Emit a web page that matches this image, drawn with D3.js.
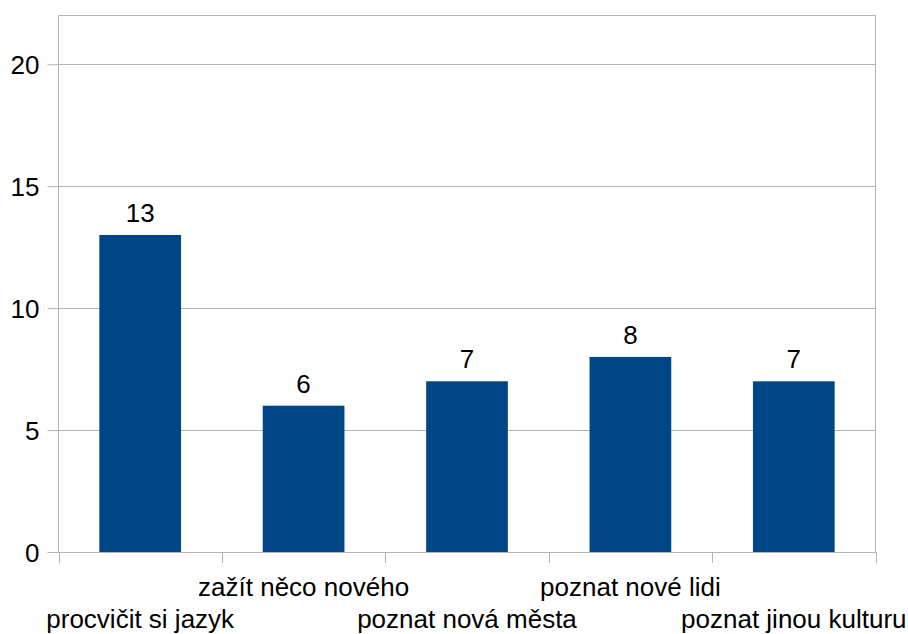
<!DOCTYPE html>
<html>
<head>
<meta charset="utf-8">
<script src="https://cdn.jsdelivr.net/npm/d3@7"></script>
<style>
  html, body { margin: 0; padding: 0; background: #fff; }
  svg text { font-family: "Liberation Sans", Arial, sans-serif; fill: #000; }
</style>
</head>
<body>
<svg id="chart" width="908" height="634"></svg>
<script>
// Answers per reason
const categories = ["procvičit si jazyk", "zažít něco nového", "poznat nová města", "poznat nové lidi", "poznat jinou kulturu"];
const counts = [13, 6, 7, 8, 7];
const yTicks = [0, 5, 10, 15, 20];
const yMax = 22;

const svg = d3.select("#chart");
const plotLeft = 58.5, plotRight = 875.5, plotTop = 15.5, plotBottom = 552;
const gridColor = "#b3b3b3";
const barColor = "#004586";
const fontSize = 26;

const x = d3.scaleBand().domain(categories).range([plotLeft, plotRight])
  .paddingInner(0.5).paddingOuter(0.25);
const y = d3.scaleLinear().domain([0, yMax]).range([plotBottom, plotTop]);

// Horizontal gridlines
svg.append("g").selectAll("line").data(yTicks).join("line")
  .attr("x1", plotLeft).attr("x2", plotRight)
  .attr("y1", d => Math.round(y(d)) + 0.5).attr("y2", d => Math.round(y(d)) + 0.5)
  .attr("stroke", gridColor).attr("stroke-width", 1);

// Frame (left, top, right)
svg.append("path")
  .attr("d", `M${plotLeft},${plotBottom}V${plotTop}H${plotRight}V${plotBottom}`)
  .attr("fill", "none").attr("stroke", gridColor).attr("stroke-width", 1);

// Y axis
const yAxis = svg.append("g").attr("transform", `translate(${plotLeft},0)`)
  .call(d3.axisLeft(y).tickValues(yTicks).tickSize(11).tickPadding(8).tickFormat(d3.format("d")));
yAxis.select(".domain").remove();
yAxis.selectAll(".tick line").attr("stroke", gridColor);
yAxis.selectAll(".tick text").attr("font-size", fontSize).attr("font-family", "Liberation Sans, Arial, sans-serif")
  .attr("fill", "#000").attr("dy", "0.36em");

// Bars
svg.append("g").selectAll("rect").data(counts).join("rect")
  .attr("x", (d, i) => x(categories[i]))
  .attr("width", x.bandwidth())
  .attr("y", d => y(d))
  .attr("height", d => y(0) - y(d))
  .attr("fill", barColor);

// Value labels
svg.append("g").selectAll("text").data(counts).join("text")
  .attr("x", (d, i) => x(categories[i]) + x.bandwidth() / 2)
  .attr("y", d => y(d) - 13)
  .attr("text-anchor", "middle")
  .attr("font-size", fontSize)
  .text(d => d);

// X baseline and category boundary ticks
const bounds = d3.range(categories.length + 1)
  .map(i => plotLeft + i * (plotRight - plotLeft) / categories.length);
svg.append("line").attr("x1", plotLeft).attr("x2", plotRight)
  .attr("y1", plotBottom + 0.5).attr("y2", plotBottom + 0.5)
  .attr("stroke", gridColor);
svg.append("g").selectAll("line").data(bounds).join("line")
  .attr("x1", d => Math.round(d) + 0.5).attr("x2", d => Math.round(d) + 0.5)
  .attr("y1", plotBottom).attr("y2", plotBottom + 11)
  .attr("stroke", gridColor);

// Category labels, staggered in two rows
svg.append("g").selectAll("text").data(categories).join("text")
  .attr("x", d => x(d) + x.bandwidth() / 2)
  .attr("y", (d, i) => i % 2 === 0 ? 628 : 596)
  .attr("text-anchor", "middle")
  .attr("font-size", fontSize)
  .text(d => d);
</script>
</body>
</html>
